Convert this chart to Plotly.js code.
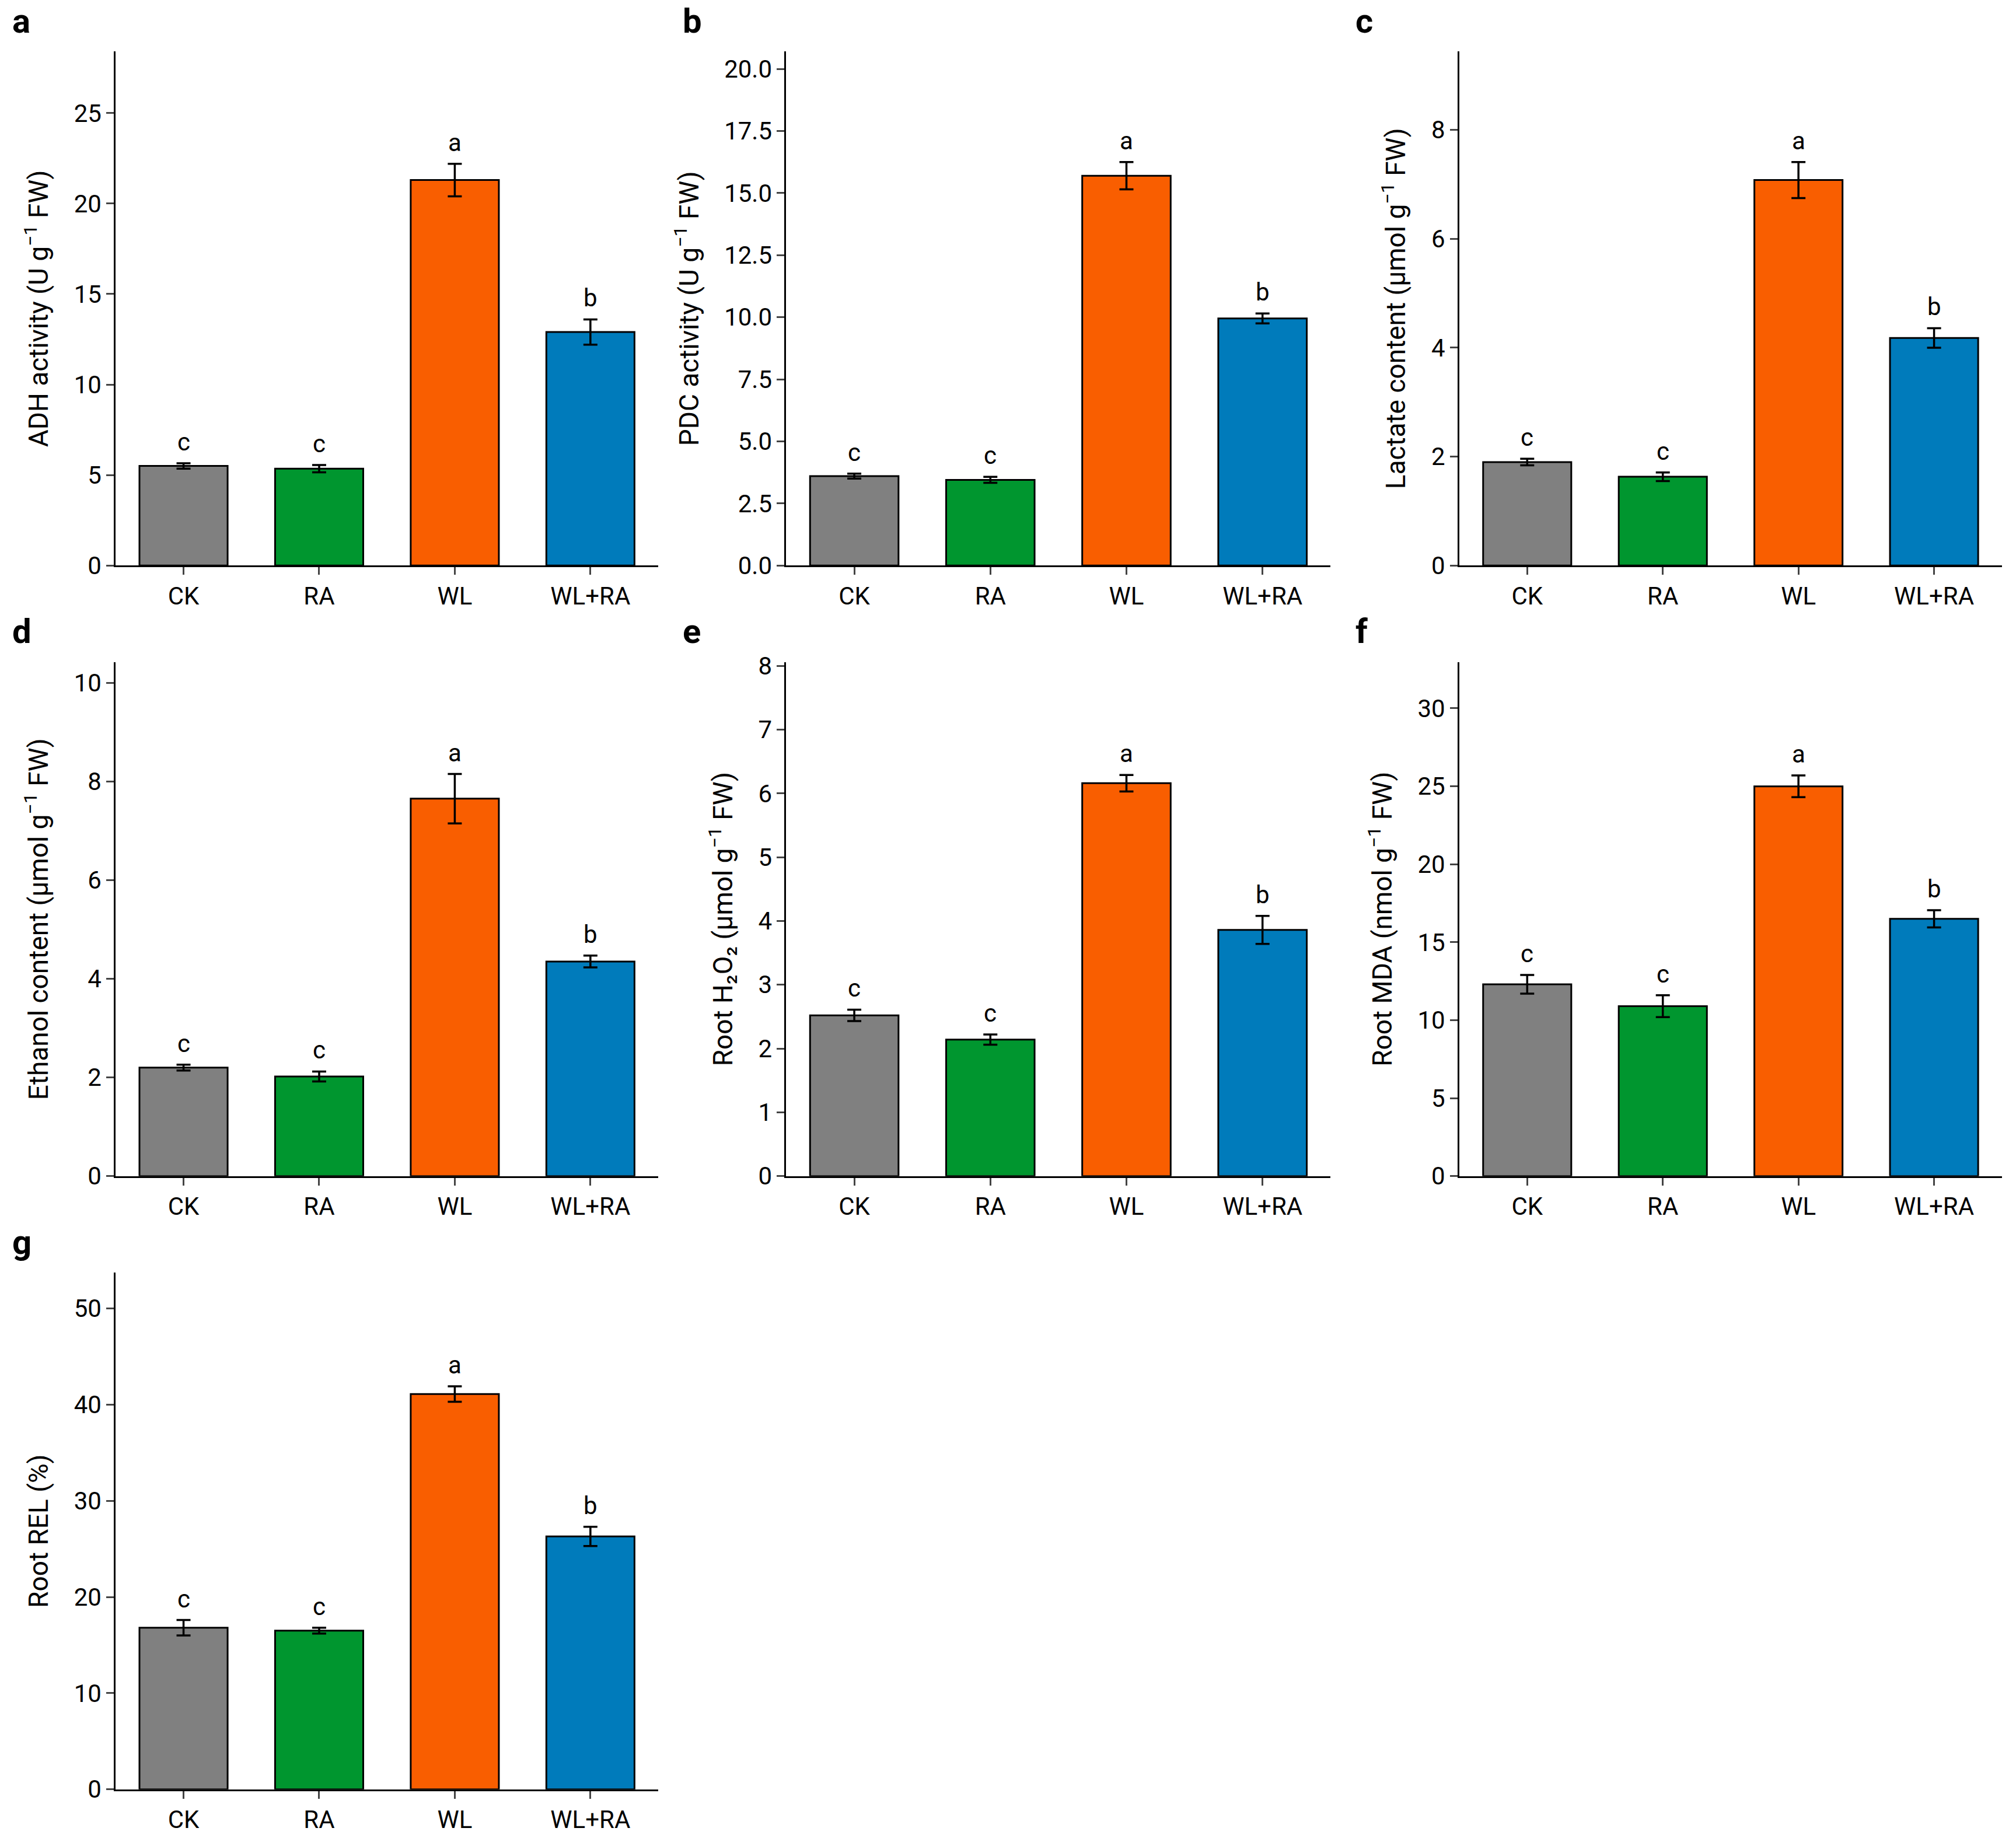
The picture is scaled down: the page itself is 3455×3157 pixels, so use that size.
<!DOCTYPE html>
<html>
<head>
<meta charset="utf-8">
<script src="https://cdn.plot.ly/plotly-3.0.1.min.js"></script>
<style>body{margin:0;background:#fff}</style>
</head>
<body>
<div id="chart" style="width:3455px;height:3157px"></div>
<script>
// groups and colours shared by every panel
var groups = ['CK', 'RA', 'WL', 'WL+RA'];
var colors = ['#808080', '#00962F', '#F95E00', '#007BBB'];
var letters = ['c', 'c', 'a', 'b'];

// values
var adhMean = [5.5, 5.35, 21.3, 12.9], adhErr = [0.15, 0.2, 0.9, 0.7];
var pdcMean = [3.6, 3.45, 15.7, 9.95], pdcErr = [0.1, 0.12, 0.55, 0.2];
var lacMean = [1.9, 1.63, 7.08, 4.18], lacErr = [0.06, 0.08, 0.33, 0.18];
var ethMean = [2.2, 2.02, 7.65, 4.35], ethErr = [0.06, 0.1, 0.5, 0.12];
var h2o2Mean = [2.52, 2.14, 6.16, 3.86], h2o2Err = [0.09, 0.08, 0.13, 0.22];
var mdaMean = [12.3, 10.9, 25.0, 16.5], mdaErr = [0.6, 0.7, 0.7, 0.55];
var relMean = [16.8, 16.5, 41.1, 26.3], relErr = [0.8, 0.3, 0.8, 1.0];

var panels = [
  {tag: 'a', m: adhMean, e: adhErr, title: 'ADH activity (U g<sup>−1</sup> FW)', top: 28.4, dt: 5, fmt: '', x: [0.0574, 0.3265], y: [0.693, 0.972]},
  {tag: 'b', m: pdcMean, e: pdcErr, title: 'PDC activity (U g<sup>−1</sup> FW)', top: 20.7, dt: 2.5, fmt: '.1f', x: [0.390, 0.660], y: [0.693, 0.972]},
  {tag: 'c', m: lacMean, e: lacErr, title: 'Lactate content (μmol g<sup>−1</sup> FW)', top: 9.44, dt: 2, fmt: '', x: [0.7239, 0.993], y: [0.693, 0.972]},
  {tag: 'd', m: ethMean, e: ethErr, title: 'Ethanol content (μmol g<sup>−1</sup> FW)', top: 10.42, dt: 2, fmt: '', x: [0.0574, 0.3265], y: [0.3615, 0.6406]},
  {tag: 'e', m: h2o2Mean, e: h2o2Err, title: 'Root H₂O₂ (μmol g<sup>−1</sup> FW)', top: 8.06, dt: 1, fmt: '', x: [0.390, 0.660], y: [0.3615, 0.6406]},
  {tag: 'f', m: mdaMean, e: mdaErr, title: 'Root MDA (nmol g<sup>−1</sup> FW)', top: 32.97, dt: 5, fmt: '', x: [0.7239, 0.993], y: [0.3615, 0.6406]},
  {tag: 'g', m: relMean, e: relErr, title: 'Root REL (%)', top: 53.7, dt: 10, fmt: '', x: [0.0574, 0.3265], y: [0.0286, 0.309]}
];

var data = [];
var layout = {
  width: 3455, height: 3157, showlegend: false,
  margin: {l: 0, r: 0, t: 0, b: 0},
  paper_bgcolor: '#fff', plot_bgcolor: '#fff',
  font: {family: 'Roboto, DejaVu Sans', size: 42, color: '#000'},
  annotations: []
};

panels.forEach(function (p, i) {
  var n = i === 0 ? '' : String(i + 1);
  data.push({
    type: 'bar', x: groups, y: p.m, xaxis: 'x' + n, yaxis: 'y' + n,
    width: 0.65,
    marker: {color: colors, line: {color: '#000', width: 3}},
    error_y: {type: 'data', array: p.e, visible: true, color: '#000', thickness: 3.5, width: 12}
  });
  layout['xaxis' + n] = {
    domain: p.x, anchor: 'y' + n, showline: true, linecolor: '#000', linewidth: 3,
    ticks: 'outside', ticklen: 13, tickwidth: 3, showgrid: false,
    tickfont: {size: 42}, range: [-0.5, 3.5]
  };
  layout['yaxis' + n] = {
    domain: p.y, anchor: 'x' + n, showline: true, linecolor: '#000', linewidth: 3,
    ticks: 'outside', ticklen: 13, tickwidth: 3, showgrid: false, zeroline: false,
    range: [0, p.top], dtick: p.dt, tickformat: p.fmt, tickfont: {size: 42},
    title: {text: p.title, font: {size: 46}, standoff: 30}
  };
  for (var k = 0; k < 4; k++) {
    layout.annotations.push({
      xref: 'x' + n, yref: 'y' + n, x: groups[k], y: p.m[k] + p.e[k],
      text: letters[k], showarrow: false, yanchor: 'bottom', yshift: 10,
      font: {size: 42}
    });
  }
  layout.annotations.push({
    xref: 'paper', yref: 'paper', x: p.x[0] - 0.052, y: p.y[1] + 0.028,
    xanchor: 'left', yanchor: 'top', text: '<b>' + p.tag + '</b>',
    showarrow: false, font: {size: 58}
  });
});

Plotly.newPlot('chart', data, layout, {staticPlot: true});
</script>
</body>
</html>
